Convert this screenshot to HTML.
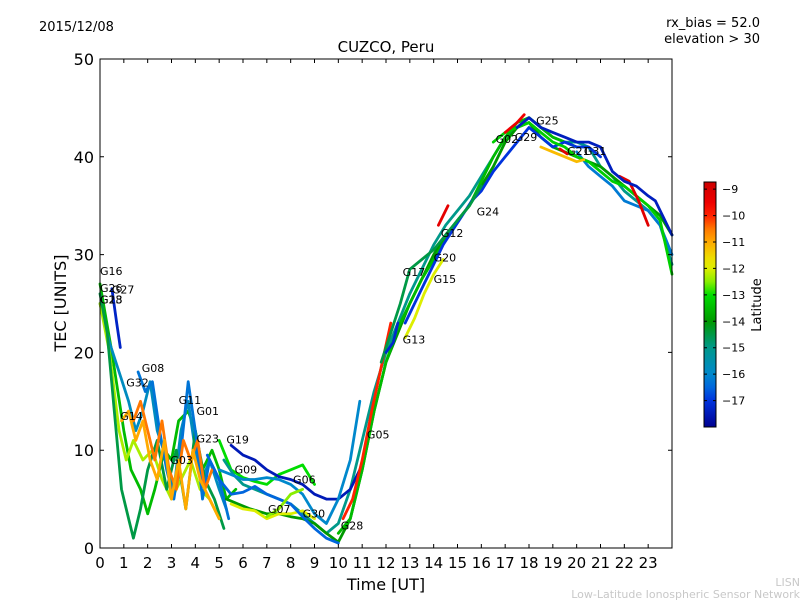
<!DOCTYPE html>
<html><head><meta charset="utf-8"><style>
body{margin:0;background:#fff;}
svg text{font-family:"DejaVu Sans","Liberation Sans",sans-serif;}
</style></head><body>
<svg id="chart" width="800" height="600" xmlns="http://www.w3.org/2000/svg">
<defs>
<linearGradient id="cmap" x1="0" y1="0" x2="0" y2="1"></linearGradient>
</defs>
<text x="39" y="31" font-size="13">2015/12/08</text>
<text x="760" y="27" font-size="13" text-anchor="end">rx_bias = 52.0</text>
<text x="760" y="43" font-size="13" text-anchor="end">elevation &gt; 30</text>
<text x="386" y="52" font-size="15" text-anchor="middle">CUZCO, Peru</text>
<g id="tracks"></g>
<g id="labels"></g>
<rect x="100" y="59" width="572" height="489" fill="none" stroke="#000" stroke-width="1"/>
<g id="xticks"></g>
<g id="yticks"></g>
<text x="386" y="590" font-size="16" text-anchor="middle">Time [UT]</text>
<text transform="translate(66,303) rotate(-90)" font-size="16" text-anchor="middle">TEC [UNITS]</text>
<rect x="704" y="182" width="12" height="245" fill="url(#cmap)" stroke="#000" stroke-width="1"/>
<g id="cticks"></g>
<text transform="translate(761,305) rotate(-90)" font-size="13" text-anchor="middle">Latitude</text>
<text x="800" y="586" font-size="11" fill="#c8c8c8" text-anchor="end">LISN</text>
<text x="800" y="598" font-size="11" fill="#c8c8c8" text-anchor="end">Low-Latitude Ionospheric Sensor Network</text>
</svg>
<script>
const xTicks=[0,1,2,3,4,5,6,7,8,9,10,11,12,13,14,15,16,17,18,19,20,21,22,23];
const yTicks=[0,10,20,30,40,50];
const cTicks=[-9,-10,-11,-12,-13,-14,-15,-16,-17];
const trackLats=[-13.5,-17.3,-15.8,-12.3,-14.5,-16.3,-10.5,-11,-13,-15,-17.5,-16,-14,-12,-13.5,-17,-12,-10,-9.3,-16.2,-13.2,-14.5,-9.2,-17.4,-11.2,-9.3,-17.2,-9.5,-16.5,-12.5];
const trackT=[
[0,0.5,1,1.3,1.7,2,2.3,2.7,3,3.3,3.7,4,4.3,4.7,5,5.3,5.7],
[0.5,0.7,0.85],
[0,0.4,0.8,1.2,1.5,1.8,2.1,2.4,2.8,3.1,3.4,3.7,4,4.3,4.6,5,5.3],
[0,0.4,0.8,1.1,1.4,1.8,2.2,2.6,3,3.4,3.8,4.2,4.6,5],
[0,0.3,0.6,0.9,1.2,1.4,1.7,2,2.4,2.8,3.2,3.6,4,4.4,4.8,5.2],
[1.6,1.9,2.2,2.5,2.8,3.1,3.4,3.7,4,4.3,4.6,5,5.4],
[1.4,1.7,2,2.3,2.6,2.9,3.2,3.5,3.8,4.1,4.4,4.7],
[0.9,1.2,1.5,1.8,2.1,2.4,2.7,3,3.3,3.6,3.9,4.2,4.6,5],
[5,5.5,6,6.5,7,7.5,8,8.5,9],
[5.2,5.6,6,6.5,7,7.5,8,8.5,9,9.5,10,10.5,11,11.5,12,12.5,13,13.5,14,14.5,15,15.5,16,16.5,17,17.5,18,18.5,19,19.5,20,20.5,21,21.5,22,22.5,23,23.5,24],
[5.5,6,6.5,7,7.5,8,8.5,9,9.5,10,10.5,11],
[5,5.5,6,6.5,7,7.5,8,8.5,9,9.5,10,10.5,10.9],
[5.3,5.8,6.3,7,7.5,8,8.5,9,9.5,10,10.5,11,11.5,12,12.5,13,13.5,14,14.5,15,15.5,16,16.5,17,17.5,18,18.5,19,19.5,20,20.5,21,21.5,22,22.5,23,23.5,24],
[5.5,6,6.5,7,7.5,8,8.5,9],
[10,10.5,11,11.5,12,12.5,13,13.5,14,14.5,15,15.5,16,16.5,17,17.5,18,18.5,19,19.5,20],
[12.8,13.2,13.6,14,14.4,14.8,15.2,15.6,16,16.5,17,17.5,18,18.5,19,19.5,20,20.5,21],
[12.8,13.2,13.6,14,14.4],
[10.2,10.6,11,11.4,11.8,12.2],
[14.2,14.6],
[20,20.5,21,21.5,22,22.5,23,23.5,24],
[16.5,17,17.5,18,18.5,19,19.5,20,20.5,21,21.5,22,22.5,23,23.5,24],
[11.8,12.2,12.6,13,13.5,14,14.5,15,15.5,16],
[21.8,22.2,22.6,23],
[17.5,18,18.5,19,19.5,20,20.5,21,21.5,22,22.5,23,23.3,23.6,24],
[18.5,19,19.5,20,20.3],
[19.3,19.6],
[12,12.3,12.5],
[17,17.5,17.8],
[4.5,5,5.5,6,6.5,7,7.5,8,8.5,9,9.5,10],
[7,7.5,8,8.5]
];
const trackV=[
[27,20,12,8,6,3.5,6,10,9,13,14,12,8,10,8,5,6],
[26.5,23,20.5],
[25,21,18,15,12,14,17,12,9,6,12,15,10,7,9,6,4],
[25,20,12,9,11,9,10,7,5,7,9,6,5,3],
[26,22,14,6,3,1,4,8,11,6,10,4,12,7,5,2],
[18,16,17,12,8,5,10,17,12,5,9,7,3],
[13,15,12,9,13,8,6,11,9,11,6,8],
[13,14,11,13,9,7,11,5,9,4,10,7,5,3],
[11,8,7.2,6.8,6.5,7.5,8,8.5,6.5],
[9,7.5,6.5,6,5.5,5,4.5,3.5,2.5,1.5,2.5,6,11,16,20,23,26,28.5,31,33,34.5,36,38,40,42,43,44,43,42,41.5,41.5,41,39,38,36.5,35.5,34.5,33,29],
[10.5,9.5,9,8,7.3,7,6.5,5.5,5,5,6,8.5],
[8,7.5,7,7,7.2,7,6.5,5.5,3.5,2.5,5,9,15],
[5,4.5,4,3.5,3.5,3.2,3,2.5,1.5,0.6,3,8,14,19,22,25,27.5,30,32,33.5,35,37,39,41.5,43,43.5,42,41,40.5,40,39.5,39,38,37,36,35,34,32,28],
[4.5,4,3.8,3,3.5,3.5,3.8,3],
[1.5,3,8,14,19,22.5,25,27.5,29.5,31.5,33.5,35,37.5,40,42,43.5,44,43,42,41.5,41],
[23,25,27,29,31,32.5,34,35.5,36.5,38.5,40,41.5,43,42,41,41.5,41,41,40],
[21.5,23.5,26,28,29.5],
[3,5,9,14,18.5,23],
[33,35],
[40.5,39,38,37,35.5,35,34.5,33,30],
[41.5,42.5,43,43.5,42.5,41.5,41,40,39.5,38.5,37.5,37,36,35,33.5,28],
[19,22,25,28.5,29.5,30.5,32,33.5,35,37],
[38,37.5,35.5,33],
[43,44,43,42.5,42,41.5,41.5,41,38.5,37.5,37,36,35.5,34,32],
[41,40.5,40,39.5,39.7],
[40.8,40.3],
[20,21,23],
[42.5,43.5,44.3],
[9.5,7,5.5,5.7,6.3,5.5,5,4.5,3.2,2,1,0.5],
[3.2,4,5.5,6]
];
const labelNames=["G16","G26","G27","G18","G23","G08","G32","G14","G11","G01","G03","G23","G19","G09","G06","G07","G30","G28","G05","G13","G17","G15","G20","G12","G24","G02","G29","G25","G21","G31"];
const labelT=[0,0,0.5,0,0,1.75,1.1,0.85,3.3,4.05,2.95,4.05,5.3,5.65,8.1,7.05,8.5,10.1,11.2,12.7,12.7,14,14,14.3,15.8,16.6,17.4,18.3,19.6,20.3];
const labelV=[27.9,26.2,26,25,25,18,16.5,13.1,14.7,13.6,8.6,10.8,10.7,7.6,6.6,3.6,3.1,1.9,11.2,20.9,27.8,27.1,29.3,31.8,34,41.4,41.6,43.3,40.2,40.2];

const NS='http://www.w3.org/2000/svg';
const X0=100,X1=672,Y0=548,Y1=59,LTOP=-8.73,LBOT=-18;
function xs(t){return X0+(X1-X0)*t/24;}
function ys(v){return Y0-(Y0-Y1)*v/50;}
function cy(l){return 182+245*(l-LTOP)/(LBOT-LTOP);}
const cmLat=[-8.73,-9.5,-10,-10.5,-11,-11.6,-12,-12.5,-13,-14,-15,-16,-16.5,-17,-18];
const cmCol=[[204,0,0],[238,0,0],[255,34,0],[255,119,0],[255,170,0],[238,221,0],[221,238,0],[136,238,0],[0,221,0],[0,153,0],[0,153,138],[0,136,204],[0,102,221],[0,51,221],[0,0,144]];
function cmap(l){
  if(l>=cmLat[0])return `rgb(${cmCol[0]})`;
  for(let i=1;i<cmLat.length;i++){
    if(l>=cmLat[i]){const f=(cmLat[i-1]-l)/(cmLat[i-1]-cmLat[i]);
      const c=cmCol[i-1].map((a,k)=>Math.round(a+(cmCol[i][k]-a)*f));return `rgb(${c})`;}
  }
  return `rgb(${cmCol[cmCol.length-1]})`;
}
const grad=document.getElementById('cmap');
cmLat.forEach((l,i)=>{const s=document.createElementNS(NS,'stop');
  s.setAttribute('offset',((l-LTOP)/(LBOT-LTOP)).toFixed(4));s.setAttribute('stop-color',`rgb(${cmCol[i]})`);grad.appendChild(s);});
const tg=document.getElementById('tracks');
for(let i=0;i<trackT.length;i++){
  const p=document.createElementNS(NS,'polyline');
  p.setAttribute('points',trackT[i].map((t,j)=>xs(t).toFixed(1)+','+ys(trackV[i][j]).toFixed(1)).join(' '));
  p.setAttribute('fill','none');p.setAttribute('stroke',cmap(trackLats[i]));
  p.setAttribute('stroke-width','2.8');p.setAttribute('stroke-linejoin','round');p.setAttribute('stroke-linecap','round');
  
  
  tg.appendChild(p);
}
const lg=document.getElementById('labels');
for(let i=0;i<labelNames.length;i++){
  const t=document.createElementNS(NS,'text');
  t.setAttribute('x',xs(labelT[i]));t.setAttribute('y',ys(labelV[i]));t.setAttribute('font-size','11');
  t.textContent=labelNames[i];
  
  
  lg.appendChild(t);
}
const xg=document.getElementById('xticks');
xTicks.forEach(v=>{
  const x=xs(v);
  const l=document.createElementNS(NS,'path');
  l.setAttribute('d',`M${x},548v-4M${x},59v4`);l.setAttribute('stroke','#000');
  
  
  xg.appendChild(l);
  const t=document.createElementNS(NS,'text');
  t.setAttribute('x',x);t.setAttribute('y',568);t.setAttribute('font-size','15');t.setAttribute('text-anchor','middle');
  t.textContent=v;
  
  
  xg.appendChild(t);
});
const yg=document.getElementById('yticks');
yTicks.forEach(v=>{
  const y=ys(v);
  const l=document.createElementNS(NS,'path');
  l.setAttribute('d',`M100,${y}h4M672,${y}h-4`);l.setAttribute('stroke','#000');
  
  
  yg.appendChild(l);
  const t=document.createElementNS(NS,'text');
  t.setAttribute('x',94);t.setAttribute('y',y+6);t.setAttribute('font-size','16');t.setAttribute('text-anchor','end');
  t.textContent=v;
  
  
  yg.appendChild(t);
});
const cg=document.getElementById('cticks');
cTicks.forEach(v=>{
  const y=cy(v);
  const l=document.createElementNS(NS,'path');
  l.setAttribute('d',`M704,${y}h3M716,${y}h-3`);l.setAttribute('stroke','#000');
  
  
  cg.appendChild(l);
  const t=document.createElementNS(NS,'text');
  t.setAttribute('x',722);t.setAttribute('y',y+4);t.setAttribute('font-size','11');
  t.textContent='\u2212'+Math.abs(v);
  
  
  cg.appendChild(t);
});
</script>
</body></html>
